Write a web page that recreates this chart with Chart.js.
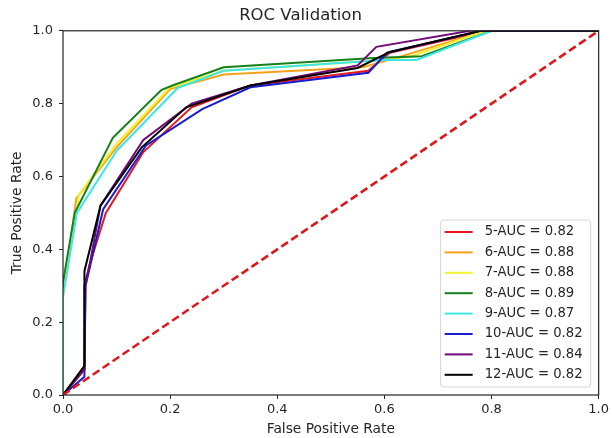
<!DOCTYPE html>
<html>
<head>
<meta charset="utf-8">
<script src="https://cdn.jsdelivr.net/npm/chart.js@4"></script>
<style>
  body { margin: 0; background: #fff; }
  #wrap { width: 612px; height: 438px; }
</style>
</head>
<body>
<div id="wrap"><canvas id="roc"></canvas></div>
<script>
// roc points (false positive rate / true positive rate)
var fpr5  = [0, 0.04, 0.042, 0.05, 0.08, 0.15, 0.24, 0.35, 0.57, 0.61, 0.79, 1];
var tpr5  = [0, 0.07, 0.30, 0.36, 0.50, 0.667, 0.79, 0.85, 0.89, 0.94, 1, 1];
var fpr6  = [0, 0, 0.025, 0.10, 0.20, 0.30, 0.56, 0.62, 0.79, 1];
var tpr6  = [0, 0.28, 0.54, 0.68, 0.84, 0.88, 0.90, 0.925, 1, 1];
var fpr7  = [0, 0, 0.03, 0.10, 0.20, 0.30, 0.60, 0.65, 0.79, 1];
var tpr7  = [0, 0.27, 0.55, 0.69, 0.845, 0.89, 0.92, 0.93, 1, 1];
var fpr8  = [0, 0, 0.022, 0.093, 0.184, 0.208, 0.30, 0.58, 0.67, 0.80, 1];
var tpr8  = [0, 0.31, 0.50, 0.706, 0.838, 0.852, 0.90, 0.925, 0.93, 1, 1];
var fpr9  = [0, 0, 0.026, 0.10, 0.214, 0.30, 0.60, 0.66, 0.80, 1];
var tpr9  = [0, 0.27, 0.50, 0.67, 0.843, 0.89, 0.92, 0.92, 1, 1];
var fpr10 = [0, 0.04, 0.042, 0.05, 0.075, 0.155, 0.26, 0.35, 0.57, 0.605, 0.78, 1];
var tpr10 = [0, 0.05, 0.30, 0.35, 0.51, 0.685, 0.785, 0.845, 0.885, 0.94, 1, 1];
var fpr11 = [0, 0.04, 0.04, 0.05, 0.07, 0.15, 0.24, 0.35, 0.55, 0.585, 0.76, 1];
var tpr11 = [0, 0.07, 0.30, 0.36, 0.52, 0.70, 0.80, 0.85, 0.905, 0.956, 1, 1];
var fpr12 = [0, 0.04, 0.04, 0.07, 0.147, 0.23, 0.35, 0.55, 0.61, 0.78, 1];
var tpr12 = [0, 0.08, 0.34, 0.52, 0.68, 0.79, 0.85, 0.898, 0.942, 1, 1];

var labels = ['5-AUC = 0.82', '6-AUC = 0.88', '7-AUC = 0.88', '8-AUC = 0.89',
              '9-AUC = 0.87', '10-AUC = 0.82', '11-AUC = 0.84', '12-AUC = 0.82'];
var colors = ['#e8191c', '#f5a21a', '#f2f22e', '#16801a', '#3ee6e6', '#1a1ad0', '#700a78', '#000000'];
var xs = [fpr5, fpr6, fpr7, fpr8, fpr9, fpr10, fpr11, fpr12];
var ys = [tpr5, tpr6, tpr7, tpr8, tpr9, tpr10, tpr11, tpr12];
var chanceX = [0, 1];
var chanceY = [0, 1];

var font = "'DejaVu Sans', sans-serif";
var ink = '#262626';

function toPoints(x, y){
    var pts = [];
    for(var i = 0; i < x.length; i++){
        pts.push({x: x[i], y: y[i]});
    }
    return pts;
}

var datasets = [];
for(var i = 0; i < labels.length; i++){
    datasets.push({
        label: labels[i],
        data: toPoints(xs[i], ys[i]),
        borderColor: colors[i],
        backgroundColor: colors[i],
        borderWidth: 2,
        showLine: true,
        pointRadius: 0,
        tension: 0,
        order: 20 - i
    });
}
datasets.push({
    label: 'chance',
    data: toPoints(chanceX, chanceY),
    borderColor: '#e0181c',
    borderWidth: 2.6,
    borderDash: [8, 4],
    showLine: true,
    pointRadius: 0,
    order: 1
});

// spines + legend box inside the axes, matplotlib style
var boxPlugin = {
    id: 'boxPlugin',
    afterDraw: function(chart){
        var ctx = chart.ctx;
        var a = chart.chartArea;
        ctx.save();
        ctx.strokeStyle = ink;
        ctx.lineWidth = 1.2;
        ctx.strokeRect(a.left, a.top, a.right - a.left, a.bottom - a.top);

        var w = 150, h = 167;
        var bx = a.right - 8 - w, by = a.bottom - 8 - h;
        ctx.fillStyle = 'rgba(255,255,255,0.85)';
        ctx.strokeStyle = '#d4d4d4';
        ctx.lineWidth = 1;
        ctx.beginPath();
        ctx.roundRect(bx, by, w, h, 3);
        ctx.fill();
        ctx.stroke();

        ctx.font = '13.2px ' + font;
        ctx.textBaseline = 'middle';
        ctx.textAlign = 'left';
        for(var i = 0; i < labels.length; i++){
            var yy = by + 12 + i * 20.4;
            ctx.strokeStyle = colors[i];
            ctx.lineWidth = 2;
            ctx.beginPath();
            ctx.moveTo(bx + 4, yy);
            ctx.lineTo(bx + 32, yy);
            ctx.stroke();
            ctx.fillStyle = ink;
            ctx.fillText(labels[i], bx + 44, yy);
        }
        ctx.restore();
    }
};

var ctx = document.getElementById('roc').getContext('2d');
var chart = new Chart(ctx, {
    type: 'scatter',
    data: { datasets: datasets },
    plugins: [boxPlugin],
    options: {
        responsive: true,
        maintainAspectRatio: false,
        animation: false,
        layout: { padding: { left: 0, right: 11, top: 0, bottom: 0 } },
        plugins: {
            legend: { display: false },
            tooltip: { enabled: false },
            title: {
                display: true,
                text: 'ROC Validation',
                color: ink,
                font: { family: font, size: 16.5, weight: 'normal' },
                padding: { top: 6, bottom: 5 }
            }
        },
        scales: {
            x: {
                type: 'linear',
                min: 0,
                max: 1,
                afterFit: function(s){ s.height = 43; },
                grid: { drawOnChartArea: false, drawTicks: true, tickLength: 4, color: ink },
                border: { display: false },
                ticks: {
                    stepSize: 0.2,
                    color: ink,
                    padding: 3,
                    maxRotation: 0,
                    font: { family: font, size: 13 },
                    callback: function(v){ return v.toFixed(1); }
                },
                title: {
                    display: true,
                    text: 'False Positive Rate',
                    color: ink,
                    font: { family: font, size: 13.8 },
                    padding: { top: 0, bottom: 0 }
                }
            },
            y: {
                type: 'linear',
                min: 0,
                max: 1,
                afterFit: function(s){ s.width = 63; },
                grid: { drawOnChartArea: false, drawTicks: true, tickLength: 4, color: ink },
                border: { display: false },
                ticks: {
                    stepSize: 0.2,
                    color: ink,
                    padding: 6,
                    font: { family: font, size: 13 },
                    callback: function(v){ return v.toFixed(1); }
                },
                title: {
                    display: true,
                    text: 'True Positive Rate',
                    color: ink,
                    font: { family: font, size: 13.8 },
                    padding: { top: 9, bottom: 0 }
                }
            }
        }
    }
});
</script>
</body>
</html>
